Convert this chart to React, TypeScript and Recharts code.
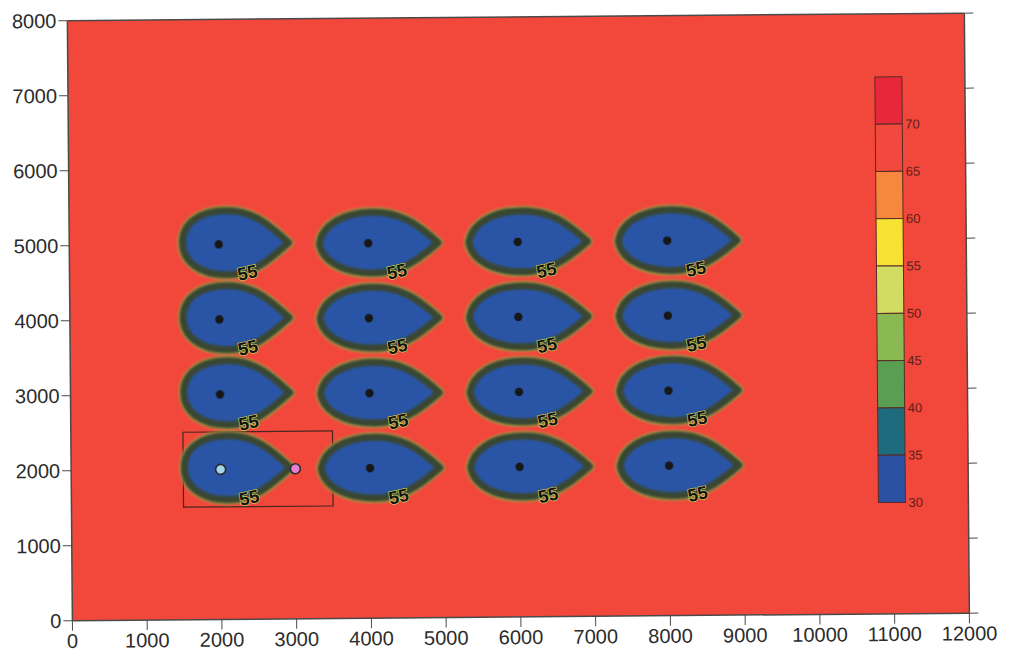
import {
  ScatterChart,
  Scatter,
  XAxis,
  YAxis,
  CartesianGrid,
  ReferenceArea,
  Legend,
} from "recharts";

const xTicks = [0, 1000, 2000, 3000, 4000, 5000, 6000, 7000, 8000, 9000, 10000, 11000, 12000];
const yTicks = [0, 1000, 2000, 3000, 4000, 5000, 6000, 7000, 8000];

// well grid
const wellXs = [2000, 4000, 6000, 8000];
const wellYs = [5000, 4000, 3000, 2000];
const contourLabel = "55";

// monitoring points + box around the first well
const monitorPoints = [
  { name: "A", x: 2000, y: 2000 },
  { name: "B", x: 3000, y: 2000 },
];
const boxX = [1500, 3500];
const boxY = [1500, 2500];

// color scale (band lower bounds, top band first)
const levels = [70, 65, 60, 55, 50, 45, 40, 35, 30];
const bandColors = [
  "#e6283a",
  "#f2493e",
  "#f6883e",
  "#f7e234",
  "#d3dc62",
  "#8ab852",
  "#5a9e52",
  "#1f6b7e",
  "#2a51a2",
];

const wells = wellYs.flatMap((y) => wellXs.map((x) => ({ x, y })));
const wellDots = wells.filter(
  (w) => !monitorPoints.some((m) => m.x === w.x && m.y === w.y)
);

const W = 1001;
const H = 650;
const LEFT = 62;
const RIGHT = 42;
const TOP = 9;
const BOTTOM = 41;
const KX = (W - LEFT - RIGHT) / 12000;
const KY = (H - TOP - BOTTOM) / 8000;

const FONT = "'Liberation Sans', Arial, sans-serif";
const AXIS = "#4a4a4a";

// outline of the 55 contour around a well, in metres from the well
// first column has a round back, the others are pinched by the neighbour on the left
const teardrop = [
  [936, 15],
  [680, 260], [460, 450], [100, 450],
  [-250, 450], [-485, 290], [-485, 30],
  [-485, -230], [-250, -405], [100, -405],
  [460, -405], [680, -210], [936, 15],
];
const lens = [
  [936, 0],
  [640, 270], [420, 415], [60, 415],
  [-360, 415], [-620, 230], [-655, 0],
  [-620, -225], [-360, -400], [60, -400],
  [420, -400], [640, -255], [936, 0],
];

function dropPath(cx: number, cy: number, pts: number[][]) {
  const p = (q: number[]) =>
    `${(cx + q[0] * KX).toFixed(1)} ${(cy - q[1] * KY).toFixed(1)}`;
  let d = `M ${p(pts[0])}`;
  for (let i = 1; i < pts.length; i += 3) {
    d += ` C ${p(pts[i])} ${p(pts[i + 1])} ${p(pts[i + 2])}`;
  }
  return d + " Z";
}

function Drop(props: any) {
  const { cx, cy, payload } = props;
  if (cx == null || cy == null) return null;
  const first = payload?.x === Math.min(...wellXs);
  const d = dropPath(cx, cy, first ? teardrop : lens);
  return (
    <g style={{ filter: "blur(0.8px)" }}>
      <path d={d} fill="none" stroke="#a3a247" strokeWidth={10} strokeLinejoin="round" />
      <path d={d} fill="#2a55a6" stroke="#394732" strokeWidth={7} strokeLinejoin="round" />
    </g>
  );
}

function ContourLabel(props: any) {
  const { cx, cy } = props;
  if (cx == null || cy == null) return null;
  const lx = cx + 380 * KX;
  const ly = cy + 380 * KY;
  return (
    <text
      x={lx}
      y={ly}
      textAnchor="middle"
      dy="0.35em"
      fontSize={18}
      fontWeight="bold"
      fontFamily={FONT}
      fill="#121212"
      stroke="#d6d060"
      strokeWidth={1.4}
      paintOrder="stroke"
      transform={`rotate(-12 ${lx} ${ly})`}
    >
      {contourLabel}
    </text>
  );
}

function WellDot(props: any) {
  const { cx, cy } = props;
  if (cx == null || cy == null) return null;
  return <circle cx={cx} cy={cy} r={4.2} fill="#171717" style={{ filter: "blur(0.4px)" }} />;
}

function MonitorDot(props: any) {
  const { cx, cy, payload } = props;
  if (cx == null || cy == null) return null;
  const fill = payload?.name === "A" ? "#a3d6e8" : "#e47fd2";
  return <circle cx={cx} cy={cy} r={5} fill={fill} stroke="#2c2c2c" strokeWidth={1.6} />;
}

function ColorBar() {
  const bandH = 47.3;
  return (
    <svg width={60} height={440} style={{ overflow: "visible" }}>
      {bandColors.map((c, i) => (
        <rect
          key={i}
          x={1}
          y={1 + i * bandH}
          width={27}
          height={bandH}
          fill={c}
          stroke="#5a2a24"
          strokeWidth={1}
        />
      ))}
      {levels.map((v, i) => (
        <text
          key={v}
          x={31}
          y={1 + (i + 1) * bandH}
          dy="0.35em"
          fontSize={13}
          fontFamily={FONT}
          fill="#5c1f1a"
        >
          {v}
        </text>
      ))}
    </svg>
  );
}

export default function App() {
  return (
    <div
      style={{
        width: W,
        height: H,
        fontFamily: FONT,
        transform: "rotate(-0.48deg)",
        transformOrigin: "center",
      }}
    >
      <ScatterChart
        width={W}
        height={H}
        margin={{ top: 0, right: 0, bottom: 0, left: 0 }}
      >
        <CartesianGrid
          xAxisId="x"
          yAxisId="y"
          horizontal={false}
          vertical={false}
          fill="#f2473b"
          fillOpacity={1}
          stroke="none"
        />
        <XAxis
          xAxisId="x"
          dataKey="x"
          type="number"
          domain={[0, 12000]}
          ticks={xTicks}
          interval={0}
          height={BOTTOM}
          tickSize={10}
          tickMargin={3}
          axisLine={{ stroke: AXIS, strokeWidth: 1.5 }}
          tickLine={{ stroke: AXIS }}
          tick={{ fontSize: 20, fill: "#2b2b2b", fontFamily: FONT }}
          allowDataOverflow
        />
        <XAxis
          xAxisId="xt"
          orientation="top"
          type="number"
          domain={[0, 12000]}
          ticks={xTicks}
          interval={0}
          height={TOP}
          tickSize={8}
          tickFormatter={() => ""}
          axisLine={{ stroke: AXIS, strokeWidth: 1.5 }}
          tickLine={{ stroke: AXIS }}
          allowDataOverflow
        />
        <YAxis
          yAxisId="y"
          dataKey="y"
          type="number"
          domain={[0, 8000]}
          ticks={yTicks}
          interval={0}
          width={LEFT}
          tickSize={9}
          tickMargin={2}
          axisLine={{ stroke: AXIS, strokeWidth: 1.5 }}
          tickLine={{ stroke: AXIS }}
          tick={{ fontSize: 20, fill: "#2b2b2b", fontFamily: FONT }}
          allowDataOverflow
        />
        <YAxis
          yAxisId="yr"
          orientation="right"
          type="number"
          domain={[0, 8000]}
          ticks={yTicks}
          interval={0}
          width={RIGHT}
          tickSize={9}
          tickFormatter={() => ""}
          axisLine={{ stroke: AXIS, strokeWidth: 1.5 }}
          tickLine={{ stroke: AXIS }}
          allowDataOverflow
        />
        <Scatter
          xAxisId="x"
          yAxisId="y"
          data={wells}
          shape={Drop}
          isAnimationActive={false}
        />
        <Scatter
          xAxisId="x"
          yAxisId="y"
          data={wellDots}
          shape={WellDot}
          isAnimationActive={false}
        />
        <Scatter
          xAxisId="x"
          yAxisId="y"
          data={wells}
          shape={ContourLabel}
          isAnimationActive={false}
        />
        <ReferenceArea
          xAxisId="x"
          yAxisId="y"
          x1={boxX[0]}
          x2={boxX[1]}
          y1={boxY[0]}
          y2={boxY[1]}
          fill="none"
          stroke="#4a2620"
          strokeWidth={1.2}
          ifOverflow="visible"
        />
        <Scatter
          xAxisId="x"
          yAxisId="y"
          data={monitorPoints}
          shape={MonitorDot}
          isAnimationActive={false}
        />
        <Legend
          layout="horizontal"
          verticalAlign="middle"
          align="center"
          content={() => <ColorBar />}
          wrapperStyle={{ left: 868, top: 71, width: 60, height: 440 }}
        />
      </ScatterChart>
    </div>
  );
}
